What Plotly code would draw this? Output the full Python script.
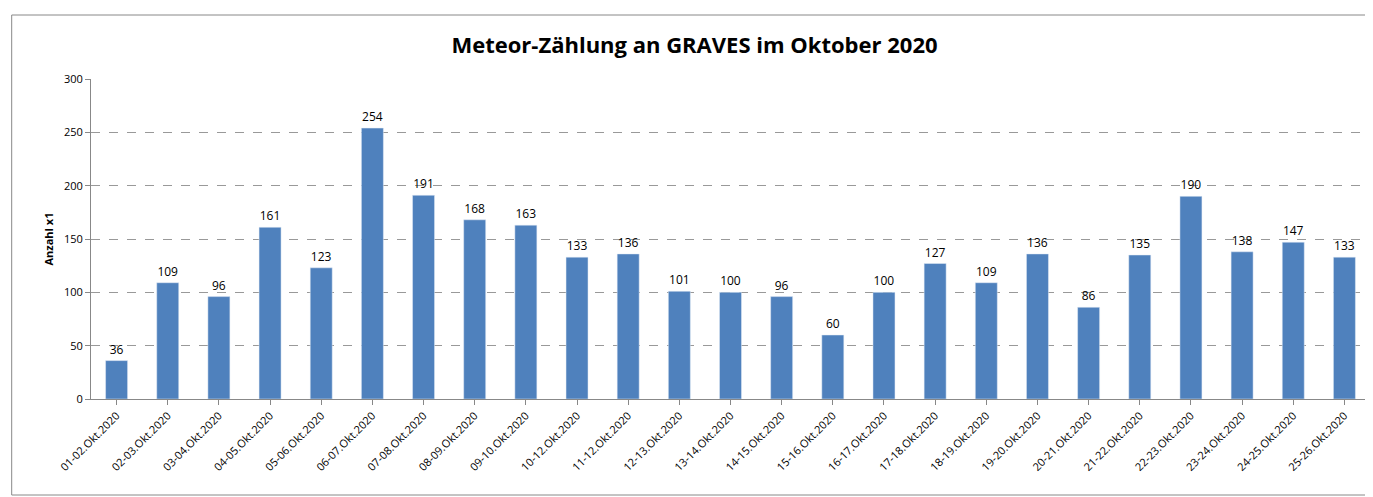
import plotly.graph_objects as go

categories = ["01-02.Okt.2020","02-03.Okt.2020","03-04.Okt.2020","04-05.Okt.2020","05-06.Okt.2020",
              "06-07.Okt.2020","07-08.Okt.2020","08-09.Okt.2020","09-10.Okt.2020","10-12.Okt.2020",
              "11-12.Okt.2020","12-13.Okt.2020","13-14.Okt.2020","14-15.Okt.2020","15-16.Okt.2020",
              "16-17.Okt.2020","17-18.Okt.2020","18-19.Okt.2020","19-20.Okt.2020","20-21.Okt.2020",
              "21-22.Okt.2020","22-23.Okt.2020","23-24.Okt.2020","24-25.Okt.2020","25-26.Okt.2020"]
counts = [36,109,96,161,123,254,191,168,163,133,136,101,100,96,60,100,127,109,136,86,135,190,138,147,133]
y_ticks = [0,50,100,150,200,250,300]

fig = go.Figure(go.Bar(
    x=categories, y=counts, marker_color="#4F81BD",
    text=[str(v) for v in counts], textposition="outside", cliponaxis=False,
    textfont=dict(size=12, color="black")))
fig.update_layout(
    width=1373, height=497,
    margin=dict(l=83, r=11, t=71, b=106, pad=0),
    paper_bgcolor="white", plot_bgcolor="white",
    font=dict(family="Open Sans", size=11, color="black"),
    title=dict(text="<b>Meteor-Zählung an GRAVES im Oktober 2020</b>", x=0.5, xanchor="center",
               y=0.925, yanchor="middle", font=dict(size=22)),
    bargap=0.57, showlegend=False,
    shapes=[dict(type="rect", xref="paper", yref="paper", x0=-0.062, x1=0.005 + 1, y0=-0.30, y1=1.2,
                 line=dict(color="#888888", width=1))],
)
fig.update_xaxes(tickangle=-45, showline=True, linecolor="#888888", ticks="outside",
                 tickcolor="#888888", tickfont=dict(size=11), automargin=False)
fig.update_yaxes(range=[0,300], tickvals=y_ticks, showgrid=True, gridcolor="#999999",
                 griddash="dash", showline=True, linecolor="#888888", ticks="outside",
                 tickcolor="#888888", zeroline=False, automargin=False,
                 title=dict(text="<b>Anzahl x1</b>", font=dict(size=11), standoff=8))
fig.write_html("out.html")
